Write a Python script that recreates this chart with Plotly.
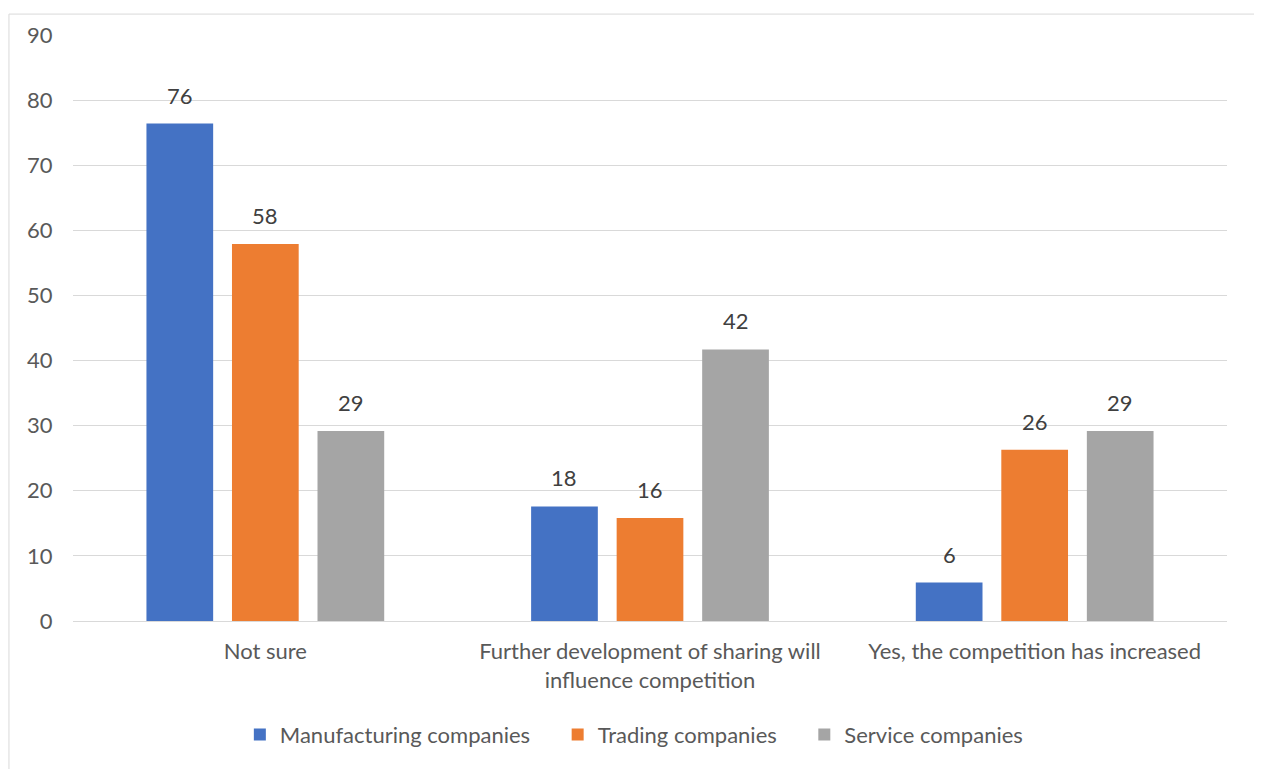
import plotly.graph_objects as go

categories = ["Not sure", "Further development of sharing will<br>influence competition", "Yes, the competition has increased"]
series_names = ["Manufacturing companies", "Trading companies", "Service companies"]
manufacturing = [76.4, 17.6, 5.9]
trading = [57.9, 15.8, 26.3]
service = [29.2, 41.7, 29.2]
labels_manufacturing = ["76", "18", "6"]
labels_trading = ["58", "16", "26"]
labels_service = ["29", "42", "29"]
colors = ["#4472C4", "#ED7D31", "#A5A5A5"]
y_ticks = [0, 10, 20, 30, 40, 50, 60, 70, 80, 90]

FONT = "Lato"
FS = 22
W, H = 1254, 761          # page body has an 8px margin
ML, MR, MT, MB = 65, 35, 27, 148
BARGAP, BARGROUPGAP = 0.333, 0.22

fig = go.Figure()
all_vals = [manufacturing, trading, service]
all_labels = [labels_manufacturing, labels_trading, labels_service]
pad = "\u00a0" * 4
for i, (name, vals, col) in enumerate(zip(series_names, all_vals, colors)):
    fig.add_trace(go.Bar(
        name=name + (pad if i < len(series_names) - 1 else ""),
        x=categories, y=vals, marker=dict(color=col, line=dict(width=0)),
        cliponaxis=False,
    ))

# data labels placed above each bar through the axis scale
plot_w = W - ML - MR
cat_w = plot_w / len(categories)
slot = cat_w * (1 - BARGAP) / len(series_names)
for i, (vals, labs) in enumerate(zip(all_vals, all_labels)):
    shift = (i - (len(series_names) - 1) / 2) * slot
    for c, v, t in zip(categories, vals, labs):
        fig.add_annotation(x=c, y=v, xref="x", yref="y", text=t, showarrow=False,
                           xshift=shift, yshift=13, yanchor="bottom",
                           font=dict(family=FONT, size=FS, color="#404040"))

fig.update_layout(
    width=W, height=H,
    margin=dict(l=ML, r=MR, t=MT, b=MB),
    paper_bgcolor="white", plot_bgcolor="white",
    barmode="group", bargap=BARGAP, bargroupgap=BARGROUPGAP,
    font=dict(family=FONT, size=FS, color="#595959"),
    showlegend=True,
    legend=dict(orientation="h", x=0.486, xanchor="center", y=-0.158, yanchor="top",
                bgcolor="rgba(0,0,0,0)",
                font=dict(family=FONT, size=FS, color="#595959"),
                itemwidth=30, traceorder="normal"),
    xaxis=dict(showgrid=False, showline=True, linecolor="#d9d9d9", linewidth=1,
               ticks="outside", ticklen=11, tickcolor="rgba(0,0,0,0)",
               tickfont=dict(family=FONT, size=FS, color="#595959")),
    yaxis=dict(range=[0, 90], tickvals=y_ticks, showgrid=True, gridcolor="#d9d9d9",
               gridwidth=1, zeroline=False, ticks="outside", ticklen=15,
               tickcolor="rgba(0,0,0,0)",
               tickfont=dict(family=FONT, size=FS, color="#595959")),
)
fig.add_shape(type="rect", xref="paper", yref="paper",
              x0=-0.0555, x1=1.0251, y0=-0.27, y1=1.0357,
              line=dict(color="#d9d9d9", width=1), fillcolor="rgba(0,0,0,0)", layer="below")

fig.write_html("out.html")
